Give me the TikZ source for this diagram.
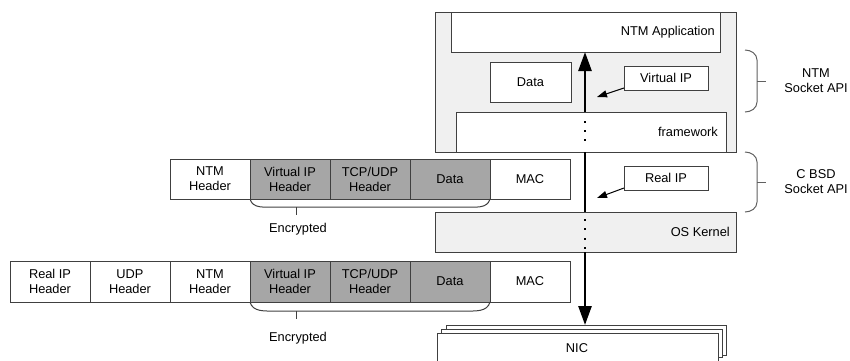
\documentclass[tikz,border=0pt]{standalone}
\usepackage{fontspec}
\setmainfont{Liberation Sans}
\usetikzlibrary{arrows.meta,calc}
\definecolor{paneGray}{RGB}{240,240,240}
\definecolor{cellGray}{RGB}{166,166,166}
\definecolor{edgeGray}{RGB}{64,64,64}
\definecolor{braceGray}{RGB}{96,96,96}

\begin{document}
\begin{tikzpicture}[x=1pt,y=-1pt,
  font=\fontsize{12.8}{15}\selectfont,
  box/.style={draw=edgeGray, line width=1pt, fill=white, inner sep=0pt,
              outer sep=0pt, anchor=north west, align=center},
  pane/.style={box, fill=paneGray},
  enc/.style={box, fill=cellGray},
  cell/.style={box, minimum width=80pt, minimum height=40pt},
  enccell/.style={enc, minimum width=80pt, minimum height=40pt},
  tag/.style={inner sep=0pt, align=center},
  mainarrow/.style={line width=2.6pt, -{Triangle[length=19pt,width=13pt]}},
  trunk/.style={line width=2.6pt},
  pointer/.style={line width=1pt, -{Triangle[length=10pt,width=7pt]}},
  bracket/.style={draw=braceGray, line width=1pt},
]
\useasboundingbox (0,0) rectangle (850,360);

% ---- NTM application stack ----
\node[pane, minimum width=301pt, minimum height=140pt] (ntmpane) at (435,12) {};
\node[box, minimum width=269pt, minimum height=40pt] (app) at (451,12) {};
\node[tag, anchor=east] (apptext) at ([xshift=-5pt]app.east) {NTM Application};
\node[box, minimum width=81pt, minimum height=40pt] (data) at (490,62) {Data};
\node[box, minimum width=84pt, minimum height=24pt] (vip) at (624,66) {Virtual IP};
\node[box, minimum width=270pt, minimum height=40pt] (fw) at (456,112) {};
\node[tag, anchor=east] (fwtext) at ([xshift=-8pt]fw.east) {framework};

% ---- kernel and real IP ----
\node[box, minimum width=84pt, minimum height=24pt] (rip) at (624,166) {Real IP};
\node[pane, minimum width=301pt, minimum height=40pt] (kernel) at (435,212) {};
\node[tag, anchor=east] (kerneltext) at ([xshift=-6pt]kernel.east) {OS Kernel};

% ---- NIC (stacked cards) ----
\node[box, minimum width=280pt, minimum height=30pt] (nicback) at (446,325) {};
\node[box, minimum width=281pt, minimum height=28pt] (nicmid) at (441,329) {};
\node[box, minimum width=281pt, minimum height=40pt] (nic) at (437,333) {};
\node[tag] (nictext) at (577,348) {NIC};

% ---- packet after NTM encapsulation ----
\node[cell]    (a1) at (170,159) {NTM\\Header};
\node[enccell] (a2) at (250,159) {Virtual IP\\Header};
\node[enccell] (a3) at (330,159) {TCP/UDP\\Header};
\node[enccell] (a4) at (410,159) {Data};
\node[cell]    (a5) at (490,159) {MAC};

% ---- packet on the wire ----
\node[cell, minimum height=41pt]    (b1) at (10,261)  {Real IP\\Header};
\node[cell, minimum height=41pt]    (b2) at (90,261)  {UDP\\Header};
\node[cell, minimum height=41pt]    (b3) at (170,261) {NTM\\Header};
\node[enccell, minimum height=41pt] (b4) at (250,261) {Virtual IP\\Header};
\node[enccell, minimum height=41pt] (b5) at (330,261) {TCP/UDP\\Header};
\node[enccell, minimum height=41pt] (b6) at (410,261) {Data};
\node[cell, minimum height=41pt]    (b7) at (490,261) {MAC};

% ---- "Encrypted" brackets ----
\draw[bracket, draw=edgeGray] (a2.south west) to[out=-75,in=180] ++(25,8)
  -- (465,207) to[out=0,in=-105] (a4.south east);
\coordinate (encA) at (296,207);
\draw[bracket, draw=edgeGray] (encA) -- ++(0,8);
\node[tag] (encAtext) at (298,229) {Encrypted};

\draw[bracket, draw=edgeGray] (b4.south west) to[out=-75,in=180] ++(25,9)
  -- (465,311) to[out=0,in=-105] (b6.south east);
\coordinate (encB) at (296,311);
\draw[bracket, draw=edgeGray] (encB) -- ++(0,8);
\node[tag] (encBtext) at (298,338) {Encrypted};

% ---- data path ----
\coordinate (axis) at (585,0);
\draw[mainarrow] (fw.north -| axis) -- (app.south -| axis);
\draw[trunk] (fw.south -| axis) -- (kernel.north -| axis);
\draw[mainarrow] (kernel.south -| axis) -- (nicback.north -| axis);
\foreach \yy in {122,131,140,220,229,239,248}
  \fill (583.6,\yy-1.4) rectangle ++(2.8,2.8);

% ---- address pointers ----
\coordinate (vipTip) at (597,97);
\draw[pointer] ($(vip.south west)+(0,-2)$) -- (vipTip);
\coordinate (ripTip) at (597,198);
\draw[pointer] ($(rip.south west)+(0,-2)$) -- (ripTip);

% ---- API layer brackets ----
\draw[bracket] (745,50) to[out=0,in=90] (757,60) -- (757,102) to[out=-90,in=0] (745,112);
\draw[bracket] (757,81) -- (766,81);
\node[tag] (ntmapi) at (816,81) {NTM\\Socket API};

\draw[bracket] (745,152) to[out=0,in=90] (757,162) -- (757,202) to[out=-90,in=0] (745,212);
\draw[bracket] (757,182) -- (766,182);
\node[tag] (bsdapi) at (816,182) {C BSD\\Socket API};
\end{tikzpicture}
\end{document}
